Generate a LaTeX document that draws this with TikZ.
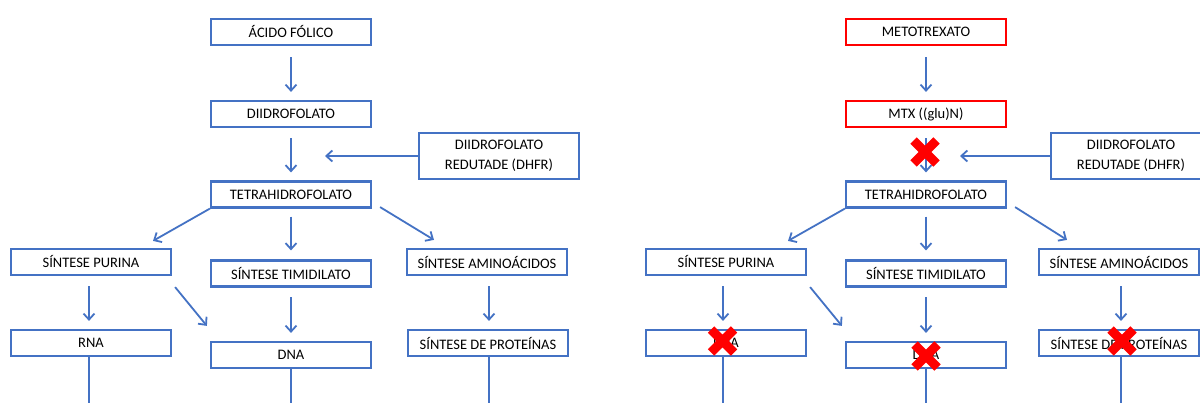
\documentclass[tikz,border=0pt]{standalone}
\usepackage{fontspec}
\setmainfont{Carlito}
\usetikzlibrary{arrows.meta,calc}
\definecolor{boxblue}{HTML}{4472C4}
\definecolor{xred}{HTML}{FF0000}
\tikzset{
 box/.style={draw=boxblue, line width=2.2pt, fill=white, minimum width=160pt, minimum height=26pt, inner sep=0pt, font=\fontsize{14.5}{20}\selectfont, text=black, align=center},
 redbox/.style={box, draw=xred},
 arr/.style={draw=boxblue, line width=1.8pt, -{Straight Barb[length=6pt,width=11pt]}},
 ln/.style={draw=boxblue, line width=1.8pt},
 xmark/.pic={\draw[xred, line width=9pt] (-11.5,-11.5) -- (11.5,11.5) (-11.5,11.5) -- (11.5,-11.5);}
}
\begin{document}
\begin{tikzpicture}[x=1pt,y=-1pt]
\useasboundingbox (0,0) rectangle (1200,403);
\clip (0,0) rectangle (1200,403);
\fill[white] (0,0) rectangle (1200,403);

% ---------- left diagram ----------
\node[box] (acido) at (291,32) {ÁCIDO FÓLICO};
\node[box] (dih) at (291,114) {DIIDROFOLATO};
\node[box, minimum height=46pt] (dhfr) at (499,156) {DIIDROFOLATO\\REDUTADE (DHFR)};
\node[box] (thf) at (291,194.5) {TETRAHIDROFOLATO};
\node[box] (pur) at (91,262) {SÍNTESE PURINA};
\node[box] (tim) at (291,273.5) {SÍNTESE TIMIDILATO};
\node[box] (ami) at (487,262) {SÍNTESE AMINOÁCIDOS};
\node[box] (rna) at (91,343) {RNA};
\node[box] (dna) at (291,355) {DNA};
\node[box] (pro) at (488,343) {SÍNTESE DE PROTEÍNAS};
\coordinate (dhfrend) at (325,156);
\coordinate (rnabot) at (89,410);
\coordinate (dnabot) at (291,410);
\coordinate (probot) at (489,410);

\draw[arr, shorten <=11pt, shorten >=8pt] (acido) -- (dih);
\draw[arr, shorten <=10pt, shorten >=8pt] (dih) -- (thf);
\draw[arr] (dhfr) -- (dhfrend);
\draw[arr, shorten <=8pt, shorten >=9pt] (thf) -- (tim);
\draw[arr] (thf.south west) -- ($(pur.north)+(62,-7)$);
\draw[arr] ($(thf.south east)+(8,-1.5)$) -- ($(ami.north)+(-53,-8)$);
\draw[arr, shorten <=10pt, shorten >=8pt] ($(pur.south)+(-2,0)$) -- ($(rna.north)+(-2,0)$);
\draw[arr] ($(pur.south east)+(3,11)$) -- ($(dna.north west)+(-3,-15)$);
\draw[arr, shorten <=9.5pt, shorten >=8pt] (tim) -- (dna);
\draw[arr, shorten <=10pt, shorten >=8pt] ($(ami.south)+(2,0)$) -- ($(pro.north)+(1,0)$);
\draw[ln] ($(rna.south)+(-2,0)$) -- (rnabot);
\draw[ln] (dna) -- (dnabot);
\draw[ln] ($(pro.south)+(1,0)$) -- (probot);

% ---------- right diagram ----------
\node[redbox] (met) at (926,32) {METOTREXATO};
\node[redbox] (mtx) at (926,114) {MTX ((glu)N)};
\node[box, minimum height=46pt] (dhfrb) at (1131,156) {DIIDROFOLATO\\REDUTADE (DHFR)};
\node[box] (thfb) at (926,194.5) {TETRAHIDROFOLATO};
\node[box] (purb) at (726,262) {SÍNTESE PURINA};
\node[box] (timb) at (926,273.5) {SÍNTESE TIMIDILATO};
\node[box] (amib) at (1119,262) {SÍNTESE AMINOÁCIDOS};
\node[box] (rnab) at (726,343) {RNA};
\node[box] (dnab) at (926,355) {DNA};
\node[box] (prob) at (1119,343) {SÍNTESE DE PROTEÍNAS};
\coordinate (dhfrendb) at (960,156);
\coordinate (rnabotb) at (723,410);
\coordinate (dnabotb) at (926,410);
\coordinate (probotb) at (1121,410);

\draw[arr, shorten <=11pt, shorten >=8pt] (met) -- (mtx);
\draw[arr, shorten <=10pt, shorten >=8pt] (mtx) -- (thfb);
\draw[arr] (dhfrb) -- (dhfrendb);
\draw[arr, shorten <=8pt, shorten >=9pt] (thfb) -- (timb);
\draw[arr] (thfb.south west) -- ($(purb.north)+(62,-7)$);
\draw[arr] ($(thfb.south east)+(8,-1.5)$) -- ($(amib.north)+(-52,-8)$);
\draw[arr, shorten <=10pt, shorten >=8pt] ($(purb.south)+(-3,0)$) -- ($(rnab.north)+(-3,0)$);
\draw[arr] ($(purb.south east)+(3,11)$) -- ($(dnab.north west)+(-3,-15)$);
\draw[arr, shorten <=9.5pt, shorten >=8pt] (timb) -- (dnab);
\draw[arr, shorten <=10pt, shorten >=8pt] ($(amib.south)+(2,0)$) -- ($(prob.north)+(2,0)$);
\draw[ln] ($(rnab.south)+(-3,0)$) -- (rnabotb);
\draw[ln] (dnab) -- (dnabotb);
\draw[ln] ($(prob.south)+(2,0)$) -- (probotb);

% red crosses
\pic at (925,152) {xmark};
\pic at (722.5,341) {xmark};
\pic at (926,356) {xmark};
\pic at (1122,341) {xmark};
\end{tikzpicture}
\end{document}
